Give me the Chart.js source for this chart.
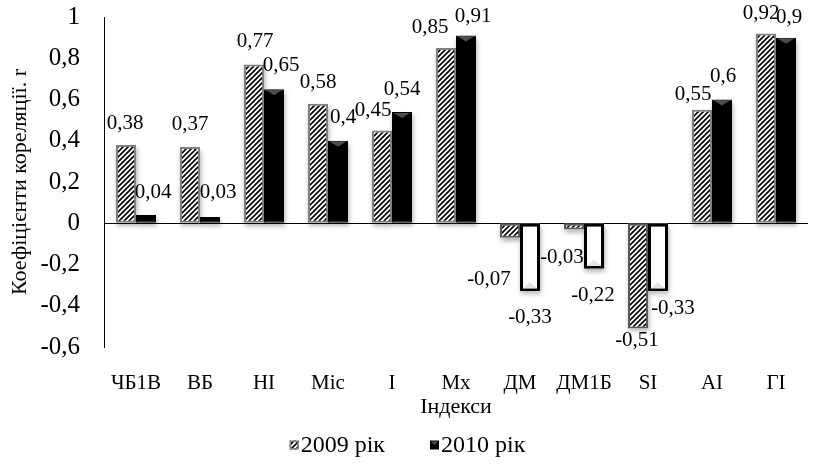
<!DOCTYPE html>
<html>
<head>
<meta charset="utf-8">
<script src="https://cdn.jsdelivr.net/npm/chart.js@4.4.1/dist/chart.umd.min.js"></script>
<style>
  html, body { margin: 0; padding: 0; background: #fff; }
  #wrap { width: 815px; height: 464px; }
</style>
</head>
<body>
<div id="wrap"><canvas id="c" width="815" height="464"></canvas></div>
<script>
const categories = ['ЧБ1В', 'ВБ', 'НІ', 'Міс', 'І', 'Мх', 'ДМ', 'ДМ1Б', 'SI', 'АІ', 'ГІ'];
const values2009 = [0.38, 0.37, 0.77, 0.58, 0.45, 0.85, -0.07, -0.03, -0.51, 0.55, 0.92];
const values2010 = [0.04, 0.03, 0.65, 0.40, 0.54, 0.91, -0.33, -0.22, -0.33, 0.60, 0.90];
const yTicks = [-0.6, -0.4, -0.2, 0, 0.2, 0.4, 0.6, 0.8, 1];
const seriesNames = ['2009 рік', '2010 рік'];

// Value label nudges [dx, dy] in px, measured from each bar's end
const labelShift2009 = [[-1,-21],[0,-22],[1,-23],[0,-21],[-9,-20],[-16,-20],[-21,42],[-12,28],[-1,12],[-9,-15],[-5,-20]];
const labelShift2010 = [[7,-23],[8,-25],[7,-24],[5,-23],[0,-22],[7,-19],[0,26],[-1,27],[15,17],[1,-23],[3,-20]];

const FONT = '"Liberation Serif", "Times New Roman", serif';
Chart.defaults.font.family = FONT;
Chart.defaults.color = '#000';

const fmt = v => String(Math.round(v * 100) / 100).replace('.', ',');

// Diagonal hatch used for the 2009 series
function hatchPattern() {
  const s = 5;
  const cv = document.createElement('canvas');
  cv.width = s; cv.height = s;
  const g = cv.getContext('2d');
  g.fillStyle = '#fff';
  g.fillRect(0, 0, s, s);
  g.strokeStyle = '#000';
  g.lineWidth = 1.7;
  g.beginPath();
  g.moveTo(0, s); g.lineTo(s, 0);
  g.moveTo(-1, 1); g.lineTo(1, -1);
  g.moveTo(s - 1, s + 1); g.lineTo(s + 1, s - 1);
  g.stroke();
  return g.createPattern(cv, 'repeat');
}
const hatch = hatchPattern();

// Soft drop shadow drawn under every bar
const barShadows = {
  id: 'barShadows',
  beforeDatasetsDraw(chart) {
    const ctx = chart.ctx;
    ctx.save();
    ctx.shadowColor = 'rgba(0,0,0,0.32)';
    ctx.shadowBlur = 5;
    ctx.shadowOffsetX = 1;
    ctx.shadowOffsetY = 3;
    ctx.fillStyle = '#fff';
    chart.data.datasets.forEach((ds, di) => {
      chart.getDatasetMeta(di).data.forEach(bar => {
        const { x, y, base, width } = bar.getProps(['x', 'y', 'base', 'width'], true);
        ctx.fillRect(x - width / 2, Math.min(y, base), width, Math.abs(base - y));
      });
    });
    ctx.restore();
  }
};

// Bevel highlight on the 2010 bars: dark notch on solid tops, light notch on hollow bottoms
const barBevel = {
  id: 'barBevel',
  afterDatasetsDraw(chart) {
    const ctx = chart.ctx;
    const meta = chart.getDatasetMeta(1);
    ctx.save();
    meta.data.forEach((bar, i) => {
      const { x, y, width } = bar.getProps(['x', 'y', 'width'], true);
      const v = chart.data.datasets[1].data[i];
      const l = x - width / 2 + 2, r = x + width / 2 - 2;
      ctx.beginPath();
      if (v >= 0) {
        if (Math.abs(bar.base - y) < 8) { return; }
        ctx.moveTo(l, y + 1); ctx.lineTo(r, y + 1); ctx.lineTo(x, y + 6);
        ctx.fillStyle = '#4d4d4d';
      } else {
        ctx.moveTo(l + 1, y - 3); ctx.lineTo(r - 1, y - 3); ctx.lineTo(x, y - 9);
        ctx.fillStyle = '#e4e4e4';
      }
      ctx.closePath();
      ctx.fill();
    });
    ctx.restore();
  }
};

// Numeric labels next to each bar
const valueLabels = {
  id: 'valueLabels',
  afterDatasetsDraw(chart) {
    const ctx = chart.ctx;
    ctx.save();
    ctx.font = '21px ' + FONT;
    ctx.fillStyle = '#000';
    ctx.textAlign = 'center';
    ctx.textBaseline = 'middle';
    chart.data.datasets.forEach((ds, di) => {
      chart.getDatasetMeta(di).data.forEach((bar, i) => {
        const sh = ds.labelShift[i];
        ctx.fillText(fmt(ds.data[i]), bar.x + sh[0], bar.y + sh[1]);
      });
    });
    ctx.restore();
  }
};

// Legend row under the axis title
const bottomLegend = {
  id: 'bottomLegend',
  afterDraw(chart) {
    const ctx = chart.ctx;
    const ds = chart.data.datasets;
    ctx.save();
    ctx.font = '24px ' + FONT;
    ctx.textBaseline = 'middle';
    ctx.textAlign = 'left';
    const box = 9, gap = 2, itemGap = 45;
    const widths = ds.map(d => ctx.measureText(d.label).width);
    const total = widths.reduce((a, w) => a + box + gap + w, 0) + itemGap * (ds.length - 1);
    let x = chart.width / 2 - total / 2;
    const cy = 446;
    ds.forEach((d, i) => {
      if (i === 0) {
        ctx.fillStyle = hatch;
        ctx.fillRect(x, cy - box / 2 - 1, box, box);
        ctx.strokeStyle = '#7f7f7f';
        ctx.lineWidth = 1.5;
        ctx.strokeRect(x + 0.75, cy - box / 2 - 0.25, box - 1.5, box - 1.5);
      } else {
        ctx.fillStyle = '#000';
        ctx.fillRect(x, cy - box / 2 - 1, box, box);
        ctx.fillStyle = '#4d4d4d';
        ctx.beginPath();
        ctx.moveTo(x + 1, cy - box / 2); ctx.lineTo(x + box - 1, cy - box / 2); ctx.lineTo(x + box / 2, cy - 1);
        ctx.closePath();
        ctx.fill();
      }
      x += box + gap;
      ctx.fillStyle = '#000';
      ctx.fillText(d.label, x, cy);
      x += widths[i] + itemGap;
    });
    ctx.restore();
  }
};

new Chart(document.getElementById('c'), {
  type: 'bar',
  data: {
    labels: categories,
    datasets: [
      {
        label: seriesNames[0],
        data: values2009,
        labelShift: labelShift2009,
        backgroundColor: hatch,
        borderColor: c => (c.raw < 0 ? '#595959' : '#808080'),
        borderWidth: 2,
        borderSkipped: false
      },
      {
        label: seriesNames[1],
        data: values2010,
        labelShift: labelShift2010,
        backgroundColor: c => (c.raw < 0 ? '#ffffff' : '#000000'),
        borderColor: '#000',
        borderWidth: c => (c.raw < 0 ? 3 : 1),
        borderSkipped: false
      }
    ]
  },
  options: {
    responsive: false,
    animation: false,
    devicePixelRatio: 1,
    layout: { padding: { top: 17, right: 7, bottom: 44, left: 0 } },
    datasets: { bar: { categoryPercentage: 0.625, barPercentage: 1.0 } },
    plugins: {
      legend: { display: false },
      tooltip: { enabled: false }
    },
    scales: {
      x: {
        grid: { display: false },
        border: { display: false },
        ticks: { font: { size: 21 }, padding: 16, color: '#000', maxRotation: 0, autoSkip: false },
        title: { display: true, text: 'Індекси', font: { size: 22 }, color: '#000', padding: { top: 0, bottom: 0 } },
        afterFit: s => { s.height = 73; s.paddingLeft = 0; s.paddingRight = 0; }
      },
      y: {
        min: -0.6,
        max: 1,
        afterBuildTicks: s => { s.ticks = yTicks.map(v => ({ value: v })); },
        grid: {
          drawTicks: false,
          color: c => (c.tick && Math.abs(c.tick.value) < 1e-9 ? '#000' : 'rgba(0,0,0,0)'),
          lineWidth: 1
        },
        border: { display: true, color: '#000', width: 1 },
        ticks: { font: { size: 25 }, padding: 24, color: '#000', callback: v => fmt(v) },
        title: { display: true, text: 'Коефіцієнти кореляції. r', font: { size: 22 }, color: '#000', padding: { top: 7, bottom: 0 } },
        afterFit: s => { s.width = 104; s.paddingTop = 0; s.paddingBottom = 0; }
      }
    }
  },
  plugins: [barShadows, barBevel, valueLabels, bottomLegend]
});
</script>
</body>
</html>
